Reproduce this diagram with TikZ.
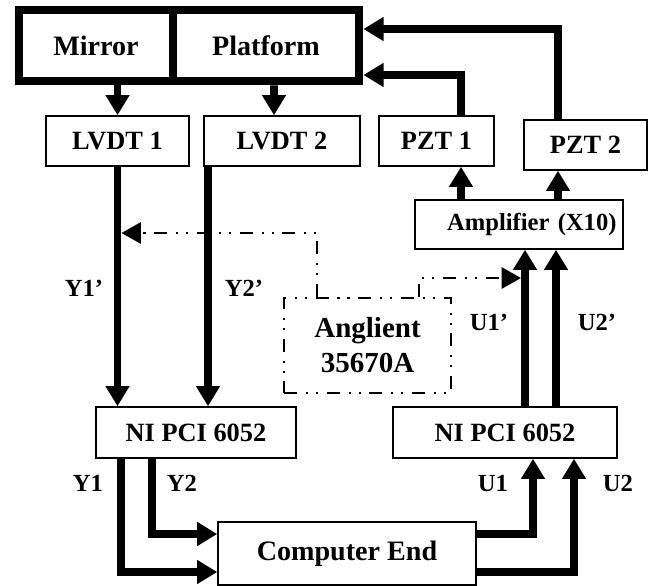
\documentclass[tikz,border=0pt]{standalone}
\usepackage{fontspec}
\setmainfont{Liberation Serif}
\usetikzlibrary{arrows.meta}

\begin{document}
\begin{tikzpicture}[
    plantBk/.style={rectangle,draw=black,line width=5pt,minimum height=1.42cm,font=\fontsize{16}{18}\selectfont\bfseries},
    ioBk/.style={rectangle,draw=black,line width=0.85pt,minimum height=1.0cm,font=\fontsize{15}{17}\selectfont\bfseries},
    instBk/.style={rectangle,draw=black,line width=1.3pt,dash pattern=on 7.4pt off 5pt on 1.2pt off 4.5pt on 1.2pt off 5pt,align=center,font=\fontsize{16.5}{20}\selectfont\bfseries},
    sigLbl/.style={font=\fontsize{14}{16}\selectfont\bfseries,inner sep=0pt},
    sigArr/.style={-{Triangle[length=11.5pt,width=13pt]},line width=4.3pt},
    tstArr/.style={-{Triangle[length=11pt,width=12pt]},line width=1.5pt,dash pattern=on 7.4pt off 5pt on 1.2pt off 4.5pt on 1.2pt off 5pt},
]
\useasboundingbox (0,0) rectangle (13.06,-11.7);
% blocks
\node[plantBk,minimum width=3.08cm] (mirror) at (1.92,-0.91) {Mirror};
\node[plantBk,minimum width=3.72cm] (plat) at (5.32,-0.91) {Platform};
\node[ioBk,minimum width=2.86cm] (lvdt1) at (2.35,-2.82) {LVDT 1};
\node[ioBk,minimum width=3.12cm] (lvdt2) at (5.64,-2.82) {LVDT 2};
\node[ioBk,minimum width=2.30cm] (pzt1) at (8.73,-2.82) {PZT 1};
\node[ioBk,minimum width=2.46cm] (pzt2) at (11.71,-2.90) {PZT 2};
\node[ioBk,minimum width=4.16cm,minimum height=0.98cm,text width=3.9cm,inner xsep=0.13cm,align=right,font=\fontsize{14}{16}\selectfont\bfseries] (amp) at (10.38,-4.49) {Amplifier (X10)};
\node[instBk,minimum width=3.34cm,minimum height=1.9cm] (ang) at (7.35,-6.91) {Anglient\\35670A};
\node[ioBk,minimum width=4.0cm,minimum height=1.02cm] (nil) at (3.92,-8.65) {NI PCI 6052};
\node[ioBk,minimum width=4.48cm,minimum height=1.02cm] (nir) at (10.10,-8.65) {NI PCI 6052};
\node[ioBk,minimum width=5.16cm,minimum height=1.26cm,font=\fontsize{16}{18}\selectfont\bfseries] (comp) at (6.94,-11.07) {Computer End};
% line positions
\coordinate (p1x) at ([xshift=0.49cm]pzt1.center);
\coordinate (p2x) at ([xshift=-0.55cm]pzt2.center);
\coordinate (y2x) at ([xshift=-1.48cm]lvdt2.center);
\coordinate (u1x) at ([xshift=0.4cm]nir.center);
\coordinate (u2x) at ([xshift=1.02cm]nir.center);
\coordinate (yTap) at (2.43,-4.66);
\coordinate (uTap) at (10.42,-5.56);
% plant to sensors, actuators to plant
\draw[sigArr] (mirror.south -| lvdt1.north) -- (lvdt1.north);
\draw[sigArr] ([xshift=0.16cm]plat.south) -- ([xshift=-0.16cm]lvdt2.north);
\draw[sigArr] (pzt1.north -| p1x) |- ([yshift=-0.59cm]plat.east);
\draw[sigArr] (pzt2.north -| p2x) |- ([yshift=0.33cm]plat.east);
\draw[sigArr] (amp.north -| p1x) -- (pzt1.south -| p1x);
\draw[sigArr] (amp.north -| p2x) -- (pzt2.south -| p2x);
% sensors to DAQ, DAQ to amplifier
\draw[sigArr] (lvdt1.south) -- (lvdt1.south |- nil.north);
\draw[sigArr] (lvdt2.south -| y2x) -- (nil.north -| y2x);
\draw[sigArr] (nir.north -| u1x) -- (amp.south -| u1x);
\draw[sigArr] (nir.north -| u2x) -- (amp.south -| u2x);
% analyser
\draw[tstArr] ([xshift=-1.01cm]ang.north) |- (yTap);
\draw[tstArr] ([xshift=1.03cm]ang.north) |- (uTap);
% computer
\draw[sigArr] ([xshift=-1.5cm]nil.south) |- ([yshift=-0.37cm]comp.west);
\draw[sigArr] ([xshift=-0.88cm]nil.south) |- ([yshift=0.39cm]comp.west);
\draw[sigArr] ([yshift=0.39cm]comp.east) -| ([xshift=0.56cm]nir.south);
\draw[sigArr] ([yshift=-0.37cm]comp.east) -| ([xshift=1.38cm]nir.south);
% labels
\node[sigLbl] (lY1p) at (1.68,-5.76) {Y1’};
\node[sigLbl] (lY2p) at (4.88,-5.76) {Y2’};
\node[sigLbl] (lU1p) at (9.78,-6.44) {U1’};
\node[sigLbl] (lU2p) at (11.94,-6.44) {U2’};
\node[sigLbl] (lY1) at (1.76,-9.66) {Y1};
\node[sigLbl] (lY2) at (3.64,-9.66) {Y2};
\node[sigLbl] (lU1) at (9.86,-9.66) {U1};
\node[sigLbl] (lU2) at (12.36,-9.66) {U2};
\end{tikzpicture}
\end{document}
